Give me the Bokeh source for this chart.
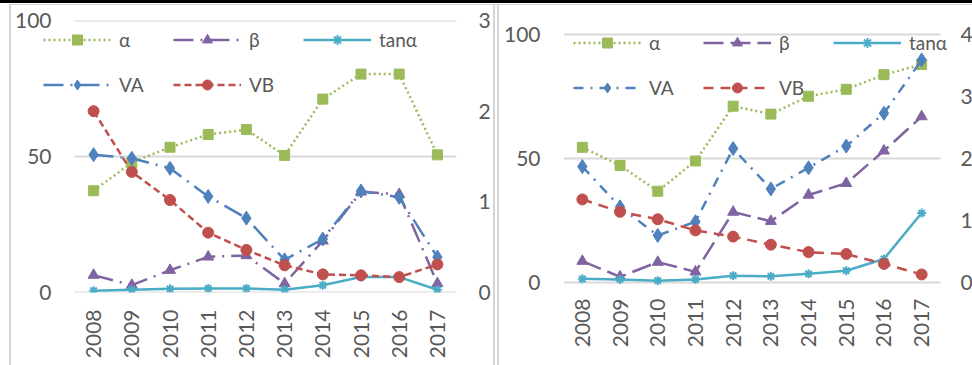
import math
from bokeh.plotting import figure
from bokeh.models import Range1d, LinearAxis, Legend, LegendItem, FixedTicker, Div
from bokeh.layouts import row, column
from bokeh.embed import file_html
from bokeh.resources import INLINE

years = ["2008", "2009", "2010", "2011", "2012", "2013", "2014", "2015", "2016", "2017"]

# left chart: alpha, beta on left axis (0-100); tan, VA, VB on right axis (0-3)
alpha_1 = [37.4, 47.8, 53.4, 58.1, 59.9, 50.4, 71.1, 80.3, 80.3, 50.6]
beta_1 = [6.4, 2.7, 8.2, 13.1, 13.6, 3.3, 19.0, 37.0, 36.1, 3.3]
tan_1 = [0.02, 0.03, 0.04, 0.045, 0.045, 0.03, 0.08, 0.17, 0.17, 0.03]
va_1 = [1.52, 1.48, 1.37, 1.06, 0.82, 0.36, 0.59, 1.12, 1.05, 0.39]
vb_1 = [2.00, 1.33, 1.02, 0.66, 0.47, 0.30, 0.20, 0.19, 0.17, 0.31]

# right chart: alpha, beta on left axis (0-100); tan, VA, VB on right axis (0-4)
alpha_2 = [54.5, 47.2, 36.8, 49.0, 71.1, 67.9, 75.1, 77.9, 83.8, 87.9]
beta_2 = [8.6, 2.3, 8.2, 4.3, 28.4, 24.7, 35.3, 40.0, 53.1, 66.9]
tan_2 = [0.06, 0.05, 0.03, 0.05, 0.11, 0.10, 0.14, 0.19, 0.38, 1.12]
va_2 = [1.87, 1.22, 0.76, 0.98, 2.16, 1.51, 1.85, 2.20, 2.73, 3.59]
vb_2 = [1.34, 1.14, 1.02, 0.84, 0.74, 0.61, 0.49, 0.46, 0.30, 0.13]

left_ticks = [0, 50, 100]
right_ticks_1 = [0, 1, 2, 3]
right_ticks_2 = [0, 1, 2, 3, 4]
labels = ["α", "β", "tanα", "VA", "VB"]

FONT = "Lato"
GRAY = "#595959"
GREEN = "#9BBB59"
PURPLE = "#8064A2"
CYAN = "#4BACC6"
BLUE = "#4F81BD"
RED = "#C0504D"
GRID = "#D9D9D9"
BORDER = "#D4D4D4"

PAGE_W = 972
PAGE_H = 365
TOP_BLACK = 3           # black table line at the very top
TOP_GAP = 1
TOP_GRAY = 1
TOP_OFF = TOP_BLACK + TOP_GAP + TOP_GRAY
FRAME_TOP = 20          # page y of frame top (both panels)
FRAME_BOT = 292         # page y of frame bottom (both panels)


def make_panel(alpha, beta, tan, va, vb, rticks, g, dashes, leg_rows):
    # all g values are page pixels; ox = page x of this canvas
    ox, oy = g["ox"], TOP_OFF
    n = len(years)
    fw = g["fr"] - g["fl"]
    fh = FRAME_BOT - FRAME_TOP
    ppu = (g["pr"] - g["pl"]) / n
    x0 = -0.5 - (g["pl"] - g["fl"]) / ppu
    x1 = n - 0.5 + (g["fr"] - g["pr"]) / ppu
    ypp = 100.0 / (g["pb"] - g["pt"])
    y0 = 0 - (FRAME_BOT - g["pb"]) * ypp
    y1 = 100 + (g["pt"] - FRAME_TOP) * ypp
    rs = rticks[-1] / 100.0

    p = figure(x_range=Range1d(x0, x1), y_range=Range1d(y0, y1),
               frame_width=fw, frame_height=fh,
               min_border_left=g["fl"] - ox, min_border_right=g["ox2"] - g["fr"],
               min_border_top=FRAME_TOP - oy, min_border_bottom=PAGE_H - FRAME_BOT,
               output_backend="svg", toolbar_location=None,
               outline_line_color=None, background_fill_color="white",
               border_fill_color="white", margin=0)
    p.extra_y_ranges = {"r": Range1d(y0 * rs, y1 * rs)}
    p.xgrid.grid_line_color = None
    p.ygrid.grid_line_color = None

    p.xaxis.ticker = FixedTicker(ticks=list(range(n)))
    p.xaxis.major_label_overrides = {i: y for i, y in enumerate(years)}
    p.yaxis.ticker = FixedTicker(ticks=left_ticks)
    raxis = LinearAxis(y_range_name="r", ticker=FixedTicker(ticks=rticks))
    p.add_layout(raxis, "right")

    for ax in [p.xaxis[0], p.yaxis[0], raxis]:
        ax.axis_line_color = None
        ax.major_tick_line_color = None
        ax.minor_tick_line_color = None
        ax.major_tick_out = 0
        ax.major_tick_in = 0
        ax.minor_tick_out = 0
        ax.major_label_text_font = FONT
        ax.major_label_text_font_size = "21px"
        ax.major_label_text_color = GRAY
    p.xaxis[0].major_label_orientation = math.pi / 2
    p.xaxis[0].major_label_standoff = g["pb"] + g["xs"] - FRAME_BOT
    p.yaxis[0].major_label_standoff = g["fl"] - g["ll"]
    raxis.major_label_standoff = g["rl"] - g["fr"]

    p.segment(x0=[-0.5] * len(left_ticks), x1=[n - 0.5] * len(left_ticks),
              y0=left_ticks, y1=left_ticks, line_color=GRID, line_width=2)

    xs = list(range(n))
    lw = 2.5
    items = []
    la = p.line(xs, alpha, color=GREEN, line_width=lw, line_dash=dashes[0])
    ma = p.scatter(xs, alpha, marker="square", size=10, color=GREEN)
    items.append(LegendItem(label=labels[0], renderers=[la, ma]))
    lb = p.line(xs, beta, color=PURPLE, line_width=lw, line_dash=dashes[1])
    mb = p.scatter(xs, beta, marker="triangle", size=11, color=PURPLE)
    items.append(LegendItem(label=labels[1], renderers=[lb, mb]))
    lt = p.line(xs, tan, color=CYAN, line_width=lw, y_range_name="r")
    mt = p.scatter(xs, tan, marker="asterisk", size=9, line_color=CYAN, line_width=2, y_range_name="r")
    items.append(LegendItem(label=labels[2], renderers=[lt, mt]))
    lv = p.line(xs, va, color=BLUE, line_width=lw, line_dash=dashes[2], y_range_name="r")
    mv = p.scatter(xs, va, marker="diamond", size=14, color=BLUE, y_range_name="r")
    items.append(LegendItem(label=labels[3], renderers=[lv, mv]))
    lvb = p.line(xs, vb, color=RED, line_width=lw, line_dash=dashes[3], y_range_name="r")
    mvb = p.scatter(xs, vb, marker="circle", size=11, color=RED, y_range_name="r")
    items.append(LegendItem(label=labels[4], renderers=[lvb, mvb]))

    gh = 25
    for its, cy in [(items[:3], leg_rows[0]), (items[3:], leg_rows[1])]:
        loc = (g["lx"] - g["fl"], FRAME_BOT - (cy + gh / 2))
        leg = Legend(items=its, orientation="horizontal", location=loc,
                     glyph_width=68, glyph_height=gh, label_standoff=8,
                     label_width=50, spacing=4, padding=0, margin=0,
                     border_line_color=None, background_fill_alpha=0,
                     label_text_font=FONT, label_text_font_size="19px",
                     label_text_color=GRAY)
        p.add_layout(leg)
    return p


def bar(w, h, color):
    return Div(text="", width=w, height=h, margin=0,
               styles={"background-color": color})


# page geometry (pixels)
geo1 = dict(ox=11, ox2=491, fl=41, fr=455, pl=73, pr=455, pt=20, pb=292,
            xs=17, ll=50, rl=477, lx=42)
geo2 = dict(ox=497, ox2=PAGE_W, fl=561, fr=954, pl=561, pr=938, pt=34, pb=282,
            xs=16, ll=538, rl=958, lx=571)

p1 = make_panel(alpha_1, beta_1, tan_1, va_1, vb_1, right_ticks_1, geo1,
                ["2 3", "20 7 2 7", "20 7 2 7", "7 4"], [39, 84])
p2 = make_panel(alpha_2, beta_2, tan_2, va_2, vb_2, right_ticks_2, geo2,
                ["2 3", "20 7", "10 7 2 7", "10 7"], [42, 87])

body_h = PAGE_H - TOP_OFF
layout = column(
    bar(PAGE_W, TOP_BLACK, "black"),
    bar(PAGE_W, TOP_GAP, "white"),
    row(bar(9, TOP_GRAY, "white"), bar(PAGE_W - 9, TOP_GRAY, BORDER), spacing=0, margin=0),
    row(bar(9, body_h, "white"), bar(2, body_h, BORDER), p1,
        bar(2, body_h, BORDER), bar(2, body_h, "white"), bar(2, body_h, BORDER), p2,
        spacing=0, margin=0),
    spacing=0, margin=0)
open("out.html", "w").write(file_html(layout, INLINE))
